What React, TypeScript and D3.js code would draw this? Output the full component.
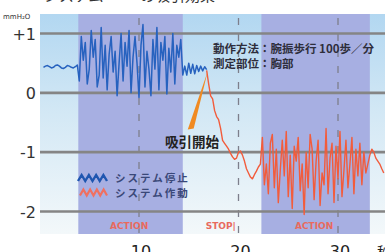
import React from "react";
import * as d3 from "d3";

// ---- data ----
const yTicks = [1, 0, -1, -2];
const yTickLabels = ["+1", "0", "-1", "-2"];
const xTicks = [10, 20, 30];
const xTickLabels = ["10", "20", "30"];
const actionSpans = [
  [3.9, 14.4],
  [22.3, 33.2],
];
const phaseLabels = ["ACTION", "STOP|", "ACTION"];
const phaseLabelT = [9.0, 16.7, 27.6];
const phaseAnchors = ["middle", "start", "middle"];

const blueStart = 0.4;
const orangeStart = 16.8;
const sampleStep = 0.2;

const blueValues = [
  // before action
  0.43, 0.45, 0.46, 0.44, 0.42, 0.43, 0.46, 0.47, 0.45, 0.42, 0.41, 0.43, 0.46, 0.45, 0.43, 0.42, 0.44, 0.47,
  // action
  0.20, 0.95, 0.55, 0.85, 0.15, 0.40, 1.05, 0.60, 0.90, 0.10, 0.30, 1.10, 0.25, 0.80, 0.05, 0.65, 0.95, 0.35,
  0.70, -0.05, 0.50, 1.00, 0.20, 0.85, 0.45, 1.05, 0.00, 0.60, 0.95, 0.50, -0.08, 0.80, 1.15, 0.10, 0.70, 0.40,
  -0.05, 0.90, 0.40, 1.10, 0.05, 0.85, 0.55, 0.95, -0.02, 0.75, 0.35, 1.00, 0.15, 0.80, 0.60, 0.90, 0.30,
  // after action
  0.45, 0.30, 0.50, 0.33, 0.48, 0.32, 0.46, 0.36, 0.45, 0.37, 0.44, 0.39,
];

const orangeValues = [
  // suction start, decline
  0.38, 0.15, -0.05, -0.1, -0.3, -0.4, -0.45, -0.6, -0.8, -0.85, -0.9, -0.95, -1.02, -1.08, -1.12, -1.1, -1.0,
  -0.98, -1.05, -1.15, -1.28, -1.35, -1.42, -1.45, -1.38, -1.32, -1.25, -1.2,
  // action
  -0.75, -1.55, -1.20, -1.70, -0.85, -0.70, -1.60, -0.95, -1.85, -1.30, -0.80, -1.40, -0.65, -1.75, -1.05, -1.95,
  -0.90, -1.15, -0.75, -1.65, -1.20, -2.05, -1.00, -1.60, -0.70, -0.95, -1.80, -1.15, -0.80, -1.90, -1.35, -1.55,
  -0.60, -1.70, -1.10, -0.85, -1.85, -0.90, -1.45, -0.65, -1.75, -1.30, -0.80, -1.60, -1.20, -0.75, -1.70, -0.95,
  -1.40, -0.85, -1.55, -1.00, -1.35, -1.20,
  // after action
  -1.05, -0.95, -1.0, -1.1, -1.15, -1.2, -1.28, -1.35,
];

const legendLabels = ["システム停止", "システム作動"];
const noteLines = ["動作方法：腕振歩行 100歩／分", "測定部位：胸部"];
const suctionLabel = "吸引開始";
const unitLabel = "mmH₂O";

const W = 385;
const H = 252;
const plotLeft = 40;
const plotTop = 14;
const plotBottom = 234;

const x = d3.scaleLinear().domain([0, 10]).range([39.5, 139]);
const y = d3.scaleLinear().domain([-2, 1]).range([211.5, 33.5]);

const BLUE = "#2762bf";
const ORANGE = "#f25c3c";

function zigzag(x0: number, y0: number, w: number, h: number, n: number) {
  const pts: [number, number][] = [];
  for (let i = 0; i <= n * 2; i++) {
    pts.push([x0 + (w * i) / (n * 2), i % 2 === 0 ? y0 + h / 2 : y0 - h / 2]);
  }
  return d3.line()(pts) || "";
}

export default function App() {
  const line = d3
    .line<[number, number]>()
    .x((d) => x(d[0]))
    .y((d) => y(d[1]));
  const bluePts = blueValues.map((v, i) => [blueStart + i * sampleStep, v] as [number, number]);
  const orangePts = orangeValues.map((v, i) => [orangeStart + i * sampleStep, v] as [number, number]);
  const font = "'DejaVu Sans', 'Noto Sans', sans-serif";
  const cjk = "'Noto Sans CJK JP', 'Noto Sans', sans-serif";

  return (
    <svg width={W} height={H} style={{ position: "absolute", left: 0, top: 0, background: "#fff" }}>
      <defs>
        <linearGradient id="bg" x1="0" y1="0" x2="0" y2="1">
          <stop offset="0" stopColor="#b2d7f1" />
          <stop offset="0.45" stopColor="#d3e8f5" />
          <stop offset="1" stopColor="#f3f8fa" />
        </linearGradient>
      </defs>
      {/* partial title at top (cut off in the reference) */}
      <text x={44} y={1} fontFamily={cjk} fontSize={15} fill="#333">システム</text>
      <text x={140} y={1} fontFamily={cjk} fontSize={15} fill="#333">の吸引効果</text>

      <rect x={plotLeft} y={plotTop} width={W - plotLeft} height={plotBottom - plotTop} fill="url(#bg)" />
      {actionSpans.map(([a, b], i) => (
        <rect key={i} x={x(a)} y={plotTop} width={x(b) - x(a)} height={plotBottom - plotTop} fill="#a7afe2" />
      ))}
      {xTicks.map((t) => (
        <line key={t} x1={x(t)} x2={x(t)} y1={plotTop + 4} y2={plotBottom} stroke="#7d7f8c" strokeWidth={1.3} strokeDasharray="7,9" />
      ))}
      {yTicks.map((v) => (
        <line key={v} x1={plotLeft} x2={W} y1={y(v)} y2={y(v)} stroke="#858585" strokeWidth={2.6} />
      ))}

      {/* annotation */}
      {noteLines.map((s, i) => (
        <text key={i} x={213} y={53 + i * 14.5} fontFamily={cjk} fontSize={11.5} fontWeight={700} fill="#2e2e3c">{s}</text>
      ))}

      <path d={line(bluePts) || ""} fill="none" stroke={BLUE} strokeWidth={1.5} strokeLinejoin="round" />
      <path d={line(orangePts) || ""} fill="none" stroke={ORANGE} strokeWidth={1.4} strokeLinejoin="round" />

      {/* arrow */}
      <polygon points={`${x(14.9)},${y(-0.62)} ${x(15.5)},${y(-0.6)} ${x(16.9)},${y(0.36)}`} fill="#f08a22" />
      <text x={165} y={147} fontFamily={cjk} fontSize={13.5} fontWeight={700} fill="#222">{suctionLabel}</text>

      {/* legend */}
      <path d={zigzag(78, 178, 29, 6, 4)} fill="none" stroke="#1f56b0" strokeWidth={2.4} />
      <path d={zigzag(80, 192.5, 27, 6, 4)} fill="none" stroke="#f07060" strokeWidth={2.2} />
      {legendLabels.map((s, i) => (
        <text key={i} x={115} y={182 + i * 15.4} fontFamily={cjk} fontSize={10.5} letterSpacing={2} fontWeight={700} fill="#3a4878">{s}</text>
      ))}

      {/* phase labels */}
      {phaseLabels.map((s, i) => (
        <text key={i} x={x(phaseLabelT[i])} y={229} textAnchor={phaseAnchors[i]} fontFamily={font} fontSize={9} fontWeight={700} fill="#e86a5e">{s}</text>
      ))}

      {/* y axis labels */}
      <text x={3} y={19} fontFamily={font} fontSize={7} fill="#333">{unitLabel}</text>
      {yTicks.map((v, i) => (
        <text key={v} x={36} y={y(v) + 6} textAnchor="end" fontFamily={font} fontSize={16} fill="#333">{yTickLabels[i]}</text>
      ))}
      {/* x axis labels (cut at bottom in the reference) */}
      {xTicks.map((t, i) => (
        <text key={t} x={x(t) + 2} y={257} textAnchor="middle" fontFamily={font} fontSize={16} fill="#222">{xTickLabels[i]}</text>
      ))}
      <text x={377} y={257} fontFamily={cjk} fontSize={14} fill="#222">秒</text>
    </svg>
  );
}
